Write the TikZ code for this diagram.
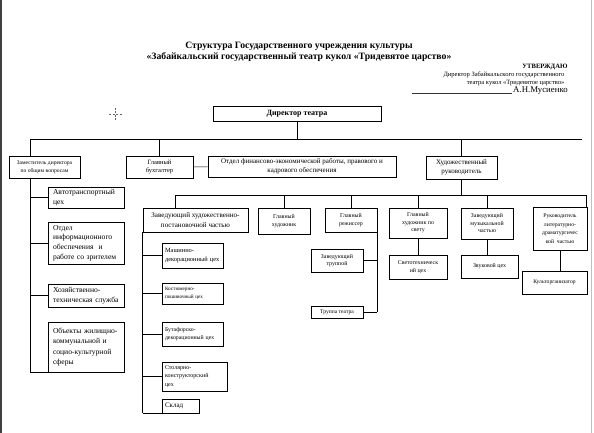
\documentclass[tikz,border=0pt]{standalone}
\usepackage{fontspec}
\setmainfont{Liberation Serif}
\usetikzlibrary{positioning}

\newcommand{\titlefont}{\fontsize{9.7}{11}\selectfont\bfseries}
\newcommand{\boxfont}{\fontsize{6.5}{8.5}\selectfont}
\newcommand{\tinyboxfont}{\fontsize{5.9}{7.5}\selectfont}
\newcommand{\colfont}{\fontsize{7.6}{9.8}\selectfont}

\begin{document}
\begin{tikzpicture}[x=1pt, y=-1pt,
    box/.style={
        rectangle, draw=black, line width=0.6pt,
        align=center, inner sep=1pt, font=\boxfont
    },
    lbox/.style={box, align=left, inner xsep=3pt},
    colbox/.style={lbox, font=\colfont, inner xsep=5pt},
    link/.style={draw=black, line width=0.6pt}
]
\useasboundingbox (0,0) rectangle (594,433);
% page edges of the scan
\draw[black!75, line width=2pt] (1,0) -- (1,433);
\draw[black!25, line width=0.8pt] (591,0) -- (591,433);
\draw[black!60, dashed, dash pattern=on 2pt off 1.5pt] (109,114) -- (122,114);
\draw[black!60, dashed, dash pattern=on 2pt off 1.5pt] (115.5,108) -- (115.5,120);

% heading
\node[font=\titlefont, align=center] (title) at (299,52) {Структура Государственного учреждения культуры\\
  «Забайкальский государственный театр кукол «Тридевятое царство»};
\node[anchor=base east, font=\fontsize{6.6}{7}\selectfont\bfseries] (utv) at (571,69) {УТВЕРЖДАЮ};
\node[anchor=base east, font=\fontsize{6.5}{7}\selectfont] (dirsig) at (568,77) {Директор Забайкальского государственного};
\node[anchor=base east, font=\fontsize{6.5}{7}\selectfont] (teatr) at (568,85) {театра кукол «Тридевятое царство»};
\node[anchor=base west, font=\fontsize{8.8}{9}\selectfont, inner sep=1pt] (sig) at (512,93) {А.Н.Мусиенко};
\coordinate (sigl) at (412,93);
\draw[black!80, line width=0.5pt] (sigl) -- (sig.base west);

% top level
\node[box, font=\fontsize{8}{9}\selectfont\bfseries, minimum width=168pt, minimum height=15pt] (dir) at (297,113.5) {Директор театра};

\node[box, font=\fontsize{5.6}{8}\selectfont, minimum width=71pt, minimum height=22pt] (dep) at (44.5,167) {Заместитель директора\\по общим вопросам};
\node[box, minimum width=67pt, minimum height=22pt] (buh) at (159.5,167) {Главный\\бухгалтер};
\node[box, font=\fontsize{7}{9}\selectfont, minimum width=188pt, minimum height=21pt] (otd) at (302,166.5) {Отдел финансово-экономической работы, правового и\\кадрового обеспечения};
\node[box, font=\fontsize{7}{9.5}\selectfont, minimum width=71pt, minimum height=23pt] (hud) at (461.5,167.5) {Художественный\\руководитель};

% left column
\node[colbox, text width=66pt, minimum height=21pt] (auto) at (86,197.5) {Автотранспортный\\цех};
\node[colbox, text width=66pt, minimum height=42pt] (info) at (86,243) {Отдел\\информационного\\обеспечения~ и\\работе со зрителем};
\node[colbox, text width=66pt, minimum height=23pt] (hoz) at (86,295.5) {Хозяйственно-\\техническая служба};
\node[colbox, font=\fontsize{7.6}{10.5}\selectfont, text width=66pt, minimum height=50pt] (obj) at (86,347) {Объекты жилищно-\\коммунальной и\\социо-культурной\\сферы};

% artistic part
\node[box, font=\fontsize{7.1}{10.5}\selectfont, minimum width=105pt, minimum height=24pt] (zhp) at (195.5,220) {Заведующий художественно-\\постановочной частью};
\node[box, font=\tinyboxfont, minimum width=52pt, minimum height=26pt] (ghud) at (284,221) {Главный\\художник};
\node[box, font=\tinyboxfont, minimum width=52pt, minimum height=24pt] (rezh) at (351,220) {Главный\\режиссер};
\node[box, font=\tinyboxfont, minimum width=58pt, minimum height=30pt] (svet) at (418,223) {Главный\\художник по\\свету};
\node[box, font=\tinyboxfont, minimum width=52pt, minimum height=31pt] (muz) at (487,223.5) {Заведующий\\музыкальной\\частью};
\node[box, font=\fontsize{5.7}{8.6}\selectfont, minimum width=54pt, minimum height=43pt] (lit) at (560,228.5) {Руководитель\\литературно-\\драматургичес\\кой~ частью};

\node[box, font=\tinyboxfont, minimum width=58pt, minimum height=24pt] (svtex) at (418,267) {Светотехническ\\ий цех};
\node[box, font=\tinyboxfont, minimum width=57pt, minimum height=23pt] (zvuk) at (489.5,266.5) {Звуковой цех};
\node[box, font=\fontsize{5.6}{7}\selectfont, minimum width=65pt, minimum height=23pt] (kult) at (554.5,282.5) {Культорганизатор};

\node[box, font=\tinyboxfont, minimum width=52pt, minimum height=23pt] (zavtr) at (337,260.5) {Заведующий\\труппой};
\node[box, font=\fontsize{5.6}{7}\selectfont, minimum width=52pt, minimum height=12pt] (trup) at (337,312) {Труппа театра};

\node[lbox, font=\fontsize{6.4}{8.5}\selectfont, text width=55pt, minimum height=25pt] (mash) at (192.5,255.5) {Машинно-\\декорационный цех};
\node[lbox, font=\fontsize{5.2}{8}\selectfont, text width=55pt, minimum height=21pt] (kost) at (192.5,293.5) {Костюмерно-\\пошивочный цех};
\node[lbox, font=\fontsize{5.8}{8.5}\selectfont, text width=55pt, minimum height=24pt] (but) at (192.5,334) {Бутафорско-\\декорационный цех};
\node[lbox, font=\fontsize{6}{8.5}\selectfont, text width=59pt, minimum height=29pt] (stol) at (194.5,376.5) {Столярно-\\конструкторский\\цех};
\node[lbox, font=\fontsize{7}{8}\selectfont, text width=31pt, minimum height=14pt] (sklad) at (180.5,406) {Склад};

% buses
\coordinate (b1l) at (30,139);
\coordinate (b1r) at (582,139);
\coordinate (b2l) at (175,195);
\coordinate (b2r) at (586,195);

\draw[link] (dir) -- (dir |- b1l);
\draw[link] (b1l) -- (b1r);
\draw[link] (b1l) -- (b1l |- dep.north);
\draw[link] (buh.north) -- (buh.north |- b1l);
\draw[link] (hud.north) -- (hud.north |- b1l);
\draw[link] (buh) -- (otd);

\draw[link] (b1l |- dep.south) -- (b1l |- obj.south);
\draw[link] (auto.west) -- (auto.west -| b1l);
\draw[link] (info.west) -- (info.west -| b1l);
\draw[link] (hoz.west) -- (hoz.west -| b1l);
\draw[link] (obj.south west) -- (obj.south west -| b1l);

\draw[link] (hud) -- (hud |- b2l);
\draw[link] (b2l) -- (b2r);
\draw[link] (b2l) -- (b2l |- zhp.north);
\draw[link] (ghud) -- (ghud |- b2l);
\draw[link] (rezh) -- (rezh |- b2l);
\draw[link] (svet) -- (svet |- b2l);
\draw[link] (muz) -- (muz |- b2l);
\draw[link] (b2r) -- (b2r |- lit.north);

\draw[link] (zhp.south west) -- (zhp.south west |- sklad.south);
\draw[link] (mash.west) -- (mash.west -| zhp.south west);
\draw[link] (kost.west) -- (kost.west -| zhp.south west);
\draw[link] (but.west) -- (but.west -| zhp.south west);
\draw[link] (stol.west) -- (stol.west -| zhp.south west);
\draw[link] (sklad.south west) -- (sklad.south west -| zhp.south west);

\draw[link] (rezh.south east) -- (rezh.south east |- trup.east);
\draw[link] (zavtr.east) -- (zavtr.east -| rezh.south east);
\draw[link] (trup.east) -- (trup.east -| rezh.south east);

\draw[link] (svet) -- (svtex);
\draw[link] (muz.south) -- (muz.south |- zvuk.north);
\draw[link] (lit.south) -- (lit.south |- kult.north);
\end{tikzpicture}
\end{document}
